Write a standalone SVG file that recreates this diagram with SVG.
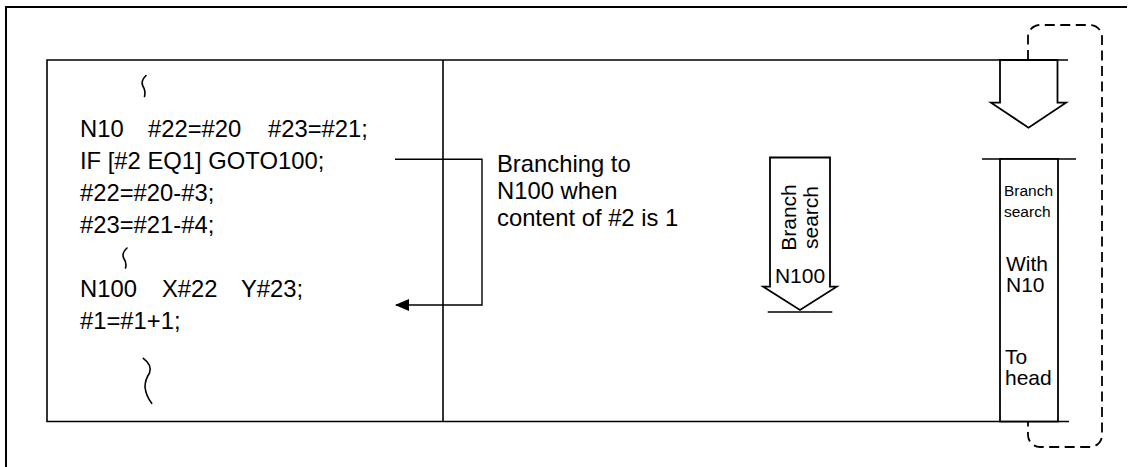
<svg xmlns="http://www.w3.org/2000/svg" width="1131" height="467" viewBox="0 0 1131 467">
<defs>
<style>
.t{font-family:"Liberation Sans",Arial,sans-serif;fill:#000}
.code{font-size:23.8px}
.mid{font-size:21px}
.sm{font-size:15.5px}
.ln{stroke:#000;fill:none}
.shape{stroke:#000;fill:#fff;stroke-width:1.8;stroke-linejoin:miter}
.sq{stroke:#000;fill:none;stroke-width:1.6;stroke-linecap:round}
</style>
<marker id="ah" viewBox="0 0 14 12" refX="13" refY="6" markerWidth="14" markerHeight="12" markerUnits="userSpaceOnUse" orient="auto">
<path d="M0,0 L14,6 L0,12 Z" fill="#000"/>
</marker>
</defs>
<rect width="1131" height="467" fill="#fff"/>
<g id="frame">
<path class="ln" stroke-width="2" d="M6,467 V7 H1127"/>
<path class="ln" stroke-width="1.6" d="M1068,60 H47 V421.5 H1069"/>
<path class="ln" stroke-width="1.6" d="M443,60 V421.5"/>
</g>
<g id="program">
<text class="t code" x="80" y="137">N10</text>
<text class="t code" x="148" y="137">#22=#20</text>
<text class="t code" x="268" y="137">#23=#21;</text>
<text class="t code" x="80" y="169">IF [#2 EQ1] GOTO100;</text>
<text class="t code" x="80" y="201">#22=#20-#3;</text>
<text class="t code" x="80" y="233">#23=#21-#4;</text>
<text class="t code" x="80" y="297">N100</text>
<text class="t code" x="162" y="297">X#22</text>
<text class="t code" x="241" y="297">Y#23;</text>
<text class="t code" x="80" y="329">#1=#1+1;</text>
<path class="sq" d="M146,75.5 Q140.5,81 142.8,86 Q146,91 144.5,96.5"/>
<path class="sq" d="M127,248 Q121.5,253 123.6,258 Q127,263 125.5,268"/>
<path class="sq" d="M143.3,358.3 Q152.5,365 149.5,373 Q145,380 145,387 Q146,396 151.7,403.3"/>
</g>
<g id="branch-note">
<text class="t code" x="497" y="172">Branching to</text>
<text class="t code" x="497" y="199">N100 when</text>
<text class="t code" x="497" y="225.5">content of #2 is 1</text>
</g>
<g id="search-arrow">
<polygon class="shape" points="770,157.5 770,286.7 763.3,286.7 800,310 836.7,286.7 830,286.7 830,157.5"/>
<path class="ln" stroke-width="1.5" d="M767.7,312 H832.3"/>
<text class="t mid" text-anchor="middle" transform="translate(796,217.5) rotate(-90)">Branch</text>
<text class="t mid" text-anchor="middle" transform="translate(818,217.5) rotate(-90)">search</text>
<text class="t mid" text-anchor="middle" x="800" y="283">N100</text>
</g>
<g id="top-arrow">
<polygon class="shape" points="1000,60 1000,102.7 991,102.7 1028.5,127.7 1066,102.7 1057.5,102.7 1057.5,60"/>
</g>
<g id="branch-box">
<path class="ln" stroke-width="1.3" d="M982,159 H1076"/>
<rect class="shape" x="1000" y="159" width="58" height="262.5"/>
<text class="t sm" x="1004" y="196">Branch</text>
<text class="t sm" x="1004" y="216.5">search</text>
<text class="t mid" x="1006" y="271">With</text>
<text class="t mid" x="1006" y="292">N10</text>
<text class="t mid" x="1005" y="364">To</text>
<text class="t mid" x="1005" y="385">head</text>
</g>
<g id="connectors">
<polyline class="ln" stroke-width="1.4" points="395,159.3 482,159.3 482,305 396,305" marker-end="url(#ah)"/>
<path class="ln" stroke-width="1.8" stroke-dasharray="10 5.5" d="M1028,60 V37 A12,12 0 0 1 1040,25 H1090 A12,12 0 0 1 1102,37 V435 A12,12 0 0 1 1090,447 H1040 A12,12 0 0 1 1028,435 V421.5"/>
</g>
</svg>
